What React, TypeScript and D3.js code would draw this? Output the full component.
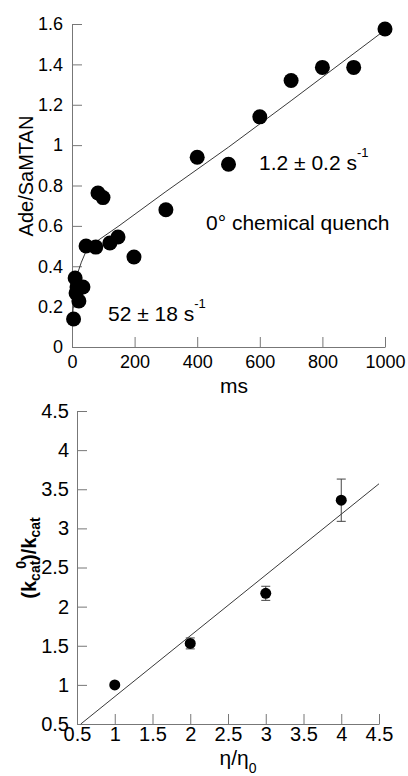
import * as d3 from 'd3';
import { useEffect, useRef } from 'react';

// top panel: Ade/SaMTAN vs time (0° chemical quench)
const quenchMs = [5, 10, 13, 16, 22, 35, 45, 76, 83, 99, 121, 147, 198, 300, 400, 500, 600, 700, 800, 900, 1000];
const adeRatio = [0.139, 0.342, 0.267, 0.297, 0.228, 0.297, 0.5, 0.495, 0.763, 0.74, 0.515, 0.545, 0.446, 0.68, 0.94, 0.905, 1.14, 1.32, 1.385, 1.385, 1.575];
// fitted curve
const fitMs = [0, 5, 10, 15, 20, 30, 45, 60, 85, 150, 300, 500, 700, 1000];
const fitRatio = [0.12, 0.22, 0.29, 0.34, 0.375, 0.42, 0.475, 0.505, 0.53, 0.6, 0.77, 0.99, 1.22, 1.57];
const msTicks = [0, 200, 400, 600, 800, 1000];
const ratioTicks = [0, 0.2, 0.4, 0.6, 0.8, 1, 1.2, 1.4, 1.6];

// bottom panel: viscosity dependence
const viscosity = [1, 2, 3, 4];
const kcatRatio = [1.0, 1.53, 2.17, 3.36];
const kcatErr = [0.02, 0.07, 0.09, 0.27];
const fitVisc = [0.55, 4.5];
const fitKcat = [0.5, 3.57];
const viscTicks = [0.5, 1, 1.5, 2, 2.5, 3, 3.5, 4, 4.5];
const kcatTicks = [0.5, 1, 1.5, 2, 2.5, 3, 3.5, 4, 4.5];

const FONT = '"Liberation Sans", Arial, sans-serif';
const AXIS = '#777';

const App = () => {
    const ref = useRef<SVGSVGElement>(null);

    useEffect(() => {
        const svg = d3.select(ref.current);
        svg.selectAll('*').remove();
        const fmt = (d: any) => String(+(+d).toFixed(1));

        const styleAxis = (g: any, size: number) => {
            g.select('.domain').attr('stroke', AXIS);
            g.selectAll('.tick line').attr('stroke', AXIS);
            g.selectAll('.tick text').attr('fill', '#000').attr('font-size', size).attr('font-family', FONT);
        };

        // ---------- top panel ----------
        const x1 = d3.scaleLinear().domain([0, 1000]).range([72, 385]);
        const y1 = d3.scaleLinear().domain([0, 1.6]).range([347, 24]);

        const ax1 = svg.append('g').attr('transform', `translate(0,${y1(0)})`)
            .call(d3.axisBottom(x1).tickValues(msTicks).tickFormat(fmt).tickSizeInner(-10).tickSizeOuter(0).tickPadding(8));
        styleAxis(ax1, 18);
        const ay1 = svg.append('g').attr('transform', `translate(${x1(0)},0)`)
            .call(d3.axisLeft(y1).tickValues(ratioTicks).tickFormat(fmt).tickSizeInner(-10).tickSizeOuter(0).tickPadding(9));
        styleAxis(ay1, 18);

        const line1 = d3.line<number>().x((d, i) => x1(fitMs[i])).y(d => y1(d));
        svg.append('path').datum(fitRatio).attr('d', line1)
            .attr('fill', 'none').attr('stroke', '#222').attr('stroke-width', 0.9);

        svg.append('g').selectAll('circle').data(adeRatio).enter().append('circle')
            .attr('cx', (d, i) => x1(quenchMs[i])).attr('cy', d => y1(d))
            .attr('r', 7.5).attr('fill', '#000');

        svg.append('text').attr('x', 234).attr('y', 393).attr('text-anchor', 'middle')
            .attr('font-size', 21).attr('font-family', FONT).text('ms');
        svg.append('text').attr('transform', 'translate(33,176) rotate(-90)').attr('text-anchor', 'middle')
            .attr('font-size', 20).attr('font-family', FONT).text('Ade/SaMTAN');

        const t1 = svg.append('text').attr('x', 259).attr('y', 170).attr('font-size', 21).attr('font-family', FONT);
        t1.append('tspan').text('1.2 ± 0.2 s');
        t1.append('tspan').attr('dy', -13).attr('font-size', 13).text('-1');

        svg.append('text').attr('x', 206).attr('y', 230).attr('font-size', 21).attr('font-family', FONT)
            .text('0° chemical quench');

        const t2 = svg.append('text').attr('x', 108).attr('y', 321).attr('font-size', 21).attr('font-family', FONT);
        t2.append('tspan').text('52 ± 18 s');
        t2.append('tspan').attr('dy', -13).attr('font-size', 13).text('-1');

        // ---------- bottom panel ----------
        const x2 = d3.scaleLinear().domain([0.5, 4.5]).range([77, 379]);
        const y2 = d3.scaleLinear().domain([0.5, 4.5]).range([724, 411]);

        const ax2 = svg.append('g').attr('transform', `translate(0,${y2(0.5)})`)
            .call(d3.axisBottom(x2).tickValues(viscTicks).tickFormat(fmt).tickSizeInner(-10).tickSizeOuter(0).tickPadding(3));
        styleAxis(ax2, 20);
        const ay2 = svg.append('g').attr('transform', `translate(${x2(0.5)},0)`)
            .call(d3.axisLeft(y2).tickValues(kcatTicks).tickFormat(fmt).tickSizeInner(-10).tickSizeOuter(0).tickPadding(8));
        styleAxis(ay2, 20);

        const line2 = d3.line<number>().x((d, i) => x2(fitVisc[i])).y(d => y2(d));
        svg.append('path').datum(fitKcat).attr('d', line2)
            .attr('fill', 'none').attr('stroke', '#222').attr('stroke-width', 0.9);

        const eb = svg.append('g').attr('stroke', '#444').attr('stroke-width', 1);
        kcatRatio.forEach((v, i) => {
            const cx = x2(viscosity[i]);
            const hi = y2(v + kcatErr[i]);
            const lo = y2(v - kcatErr[i]);
            eb.append('line').attr('x1', cx).attr('x2', cx).attr('y1', hi).attr('y2', lo);
            eb.append('line').attr('x1', cx - 4.5).attr('x2', cx + 4.5).attr('y1', hi).attr('y2', hi);
            eb.append('line').attr('x1', cx - 4.5).attr('x2', cx + 4.5).attr('y1', lo).attr('y2', lo);
        });

        svg.append('g').selectAll('circle').data(kcatRatio).enter().append('circle')
            .attr('cx', (d, i) => x2(viscosity[i])).attr('cy', d => y2(d))
            .attr('r', 5.5).attr('fill', '#000');

        const xl = svg.append('text').attr('x', 238).attr('y', 765).attr('text-anchor', 'middle')
            .attr('font-size', 21).attr('font-family', FONT);
        xl.append('tspan').text('η/η');
        xl.append('tspan').attr('dy', 8).attr('font-size', 14).text('0');

        const yl = svg.append('text').attr('transform', 'translate(36,558) rotate(-90)').attr('text-anchor', 'middle')
            .attr('font-size', 20).attr('font-weight', 'bold').attr('font-family', FONT);
        yl.append('tspan').text('(k');
        yl.append('tspan').attr('dy', 4).attr('font-size', 14).text('cat');
        yl.append('tspan').attr('dy', -14).attr('dx', -8).attr('font-size', 14).text('0');
        yl.append('tspan').attr('dy', 10).text(')/k');
        yl.append('tspan').attr('dy', 4).attr('font-size', 14).text('cat');
    }, []);

    return (
        <svg ref={ref} width={408} height={776}
             style={{ position: 'absolute', left: 0, top: 0, background: '#fff' }} />
    );
};

export default App;
